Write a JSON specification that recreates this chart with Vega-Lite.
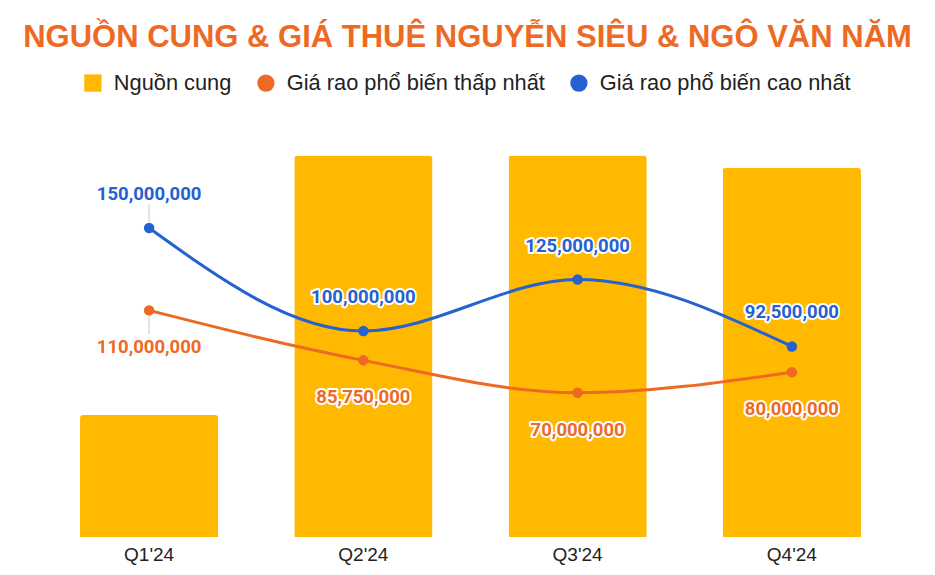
{
  "$schema": "https://vega.github.io/schema/vega-lite/v6.json",
  "width": 857,
  "height": 412,
  "autosize": {"type": "none"},
  "padding": {"left": 42, "top": 125, "right": 36, "bottom": 38},
  "background": "white",
  "title": {
    "text": "NGUỒN CUNG & GIÁ THUÊ NGUYỄN SIÊU & NGÔ VĂN NĂM",
    "font": "Liberation Sans",
    "fontSize": 31,
    "fontWeight": "bold",
    "color": "#EE6A24",
    "anchor": "middle",
    "baseline": "middle",
    "dx": -3,
    "dy": -3,
    "offset": 0
  },
  "data": {
    "values": [
      {"quarter": "Q1'24", "supply": 8, "low": 110000000, "high": 150000000},
      {"quarter": "Q2'24", "supply": 25, "low": 85750000, "high": 100000000},
      {"quarter": "Q3'24", "supply": 25, "low": 70000000, "high": 125000000},
      {"quarter": "Q4'24", "supply": 24.2, "low": 80000000, "high": 92500000}
    ]
  },
  "config": {
    "view": {"stroke": null},
    "axis": {"grid": false}
  },
  "encoding": {
    "x": {
      "field": "quarter",
      "type": "ordinal",
      "sort": null,
      "scale": {"paddingInner": 0.355, "paddingOuter": 0.1775},
      "axis": {
        "title": null,
        "labelAngle": 0,
        "domain": false,
        "ticks": false,
        "labelPadding": 8,
        "labelFont": "Liberation Sans",
        "labelFontSize": 19,
        "labelColor": "#222222"
      }
    }
  },
  "layer": [
    {
      "mark": {"type": "bar", "cornerRadiusTopLeft": 3, "cornerRadiusTopRight": 3},
      "encoding": {
        "y": {"field": "supply", "type": "quantitative", "scale": {"domain": [0, 27]}, "axis": null},
        "color": {
          "datum": "Nguồn cung",
          "scale": {
            "domain": ["Nguồn cung", "Giá rao phổ biến thấp nhất", "Giá rao phổ biến cao nhất"],
            "range": ["#FFB900", "#EE6A24", "#2561CF"]
          },
          "legend": {
            "title": null,
            "orient": "none",
            "direction": "horizontal",
            "legendX": 40,
            "legendY": -53,
            "labelFont": "Liberation Sans",
            "labelFontSize": 21.8,
            "labelLimit": 500,
            "labelColor": "#222222",
            "symbolSize": 300,
            "labelOffset": 10,
            "columnPadding": 23,
            "symbolStrokeWidth": 0,
            "encode": {
              "symbols": {
                "update": {
                  "shape": {"signal": "datum.value === 'Nguồn cung' ? 'square' : 'circle'"},
                  "fill": {"scale": "color", "field": "value"},
                  "strokeWidth": {"value": 0},
                  "opacity": {"value": 1}
                }
              }
            }
          }
        }
      }
    },
    {
      "layer": [
        {
          "transform": [{"filter": "datum.quarter === \"Q1'24\""}],
          "mark": {"type": "rule", "color": "#E3E3E3", "strokeWidth": 2, "yOffset": -24, "y2Offset": -6},
          "encoding": {
            "y": {"field": "high", "type": "quantitative"},
            "y2": {"field": "high"}
          }
        },
        {
          "transform": [{"filter": "datum.quarter === \"Q1'24\""}],
          "mark": {"type": "rule", "color": "#E3E3E3", "strokeWidth": 2, "yOffset": 6, "y2Offset": 24},
          "encoding": {
            "y": {"field": "low", "type": "quantitative"},
            "y2": {"field": "low"}
          }
        },
        {
          "mark": {"type": "line", "interpolate": "monotone", "strokeWidth": 3},
          "encoding": {
            "y": {"field": "low", "type": "quantitative"},
            "color": {"datum": "Giá rao phổ biến thấp nhất"}
          }
        },
        {
          "mark": {"type": "line", "interpolate": "monotone", "strokeWidth": 3},
          "encoding": {
            "y": {"field": "high", "type": "quantitative"},
            "color": {"datum": "Giá rao phổ biến cao nhất"}
          }
        },
        {
          "mark": {"type": "point", "filled": true, "size": 110, "opacity": 1},
          "encoding": {
            "y": {"field": "low", "type": "quantitative"},
            "color": {"datum": "Giá rao phổ biến thấp nhất"}
          }
        },
        {
          "mark": {"type": "point", "filled": true, "size": 110, "opacity": 1},
          "encoding": {
            "y": {"field": "high", "type": "quantitative"},
            "color": {"datum": "Giá rao phổ biến cao nhất"}
          }
        },
        {
          "mark": {"type": "text", "dy": 37, "font": "Roboto", "fontSize": 18.5, "fontWeight": "bold", "fill": "white", "stroke": "white", "strokeWidth": 4, "strokeJoin": "round"},
          "encoding": {
            "y": {"field": "low", "type": "quantitative"},
            "text": {"field": "low", "format": ","}
          }
        },
        {
          "mark": {"type": "text", "dy": -34, "font": "Roboto", "fontSize": 18.5, "fontWeight": "bold", "fill": "white", "stroke": "white", "strokeWidth": 4, "strokeJoin": "round"},
          "encoding": {
            "y": {"field": "high", "type": "quantitative"},
            "text": {"field": "high", "format": ","}
          }
        },
        {
          "mark": {"type": "text", "dy": 37, "font": "Roboto", "fontSize": 18.5, "fontWeight": "bold", "color": "#EE6A24"},
          "encoding": {
            "y": {"field": "low", "type": "quantitative"},
            "text": {"field": "low", "format": ","}
          }
        },
        {
          "mark": {"type": "text", "dy": -34, "font": "Roboto", "fontSize": 18.5, "fontWeight": "bold", "color": "#2561CF"},
          "encoding": {
            "y": {"field": "high", "type": "quantitative"},
            "text": {"field": "high", "format": ","}
          }
        }
      ],
      "encoding": {
        "y": {"type": "quantitative", "scale": {"domain": [0, 200000000]}, "axis": null}
      }
    }
  ],
  "resolve": {"scale": {"y": "independent"}}
}
